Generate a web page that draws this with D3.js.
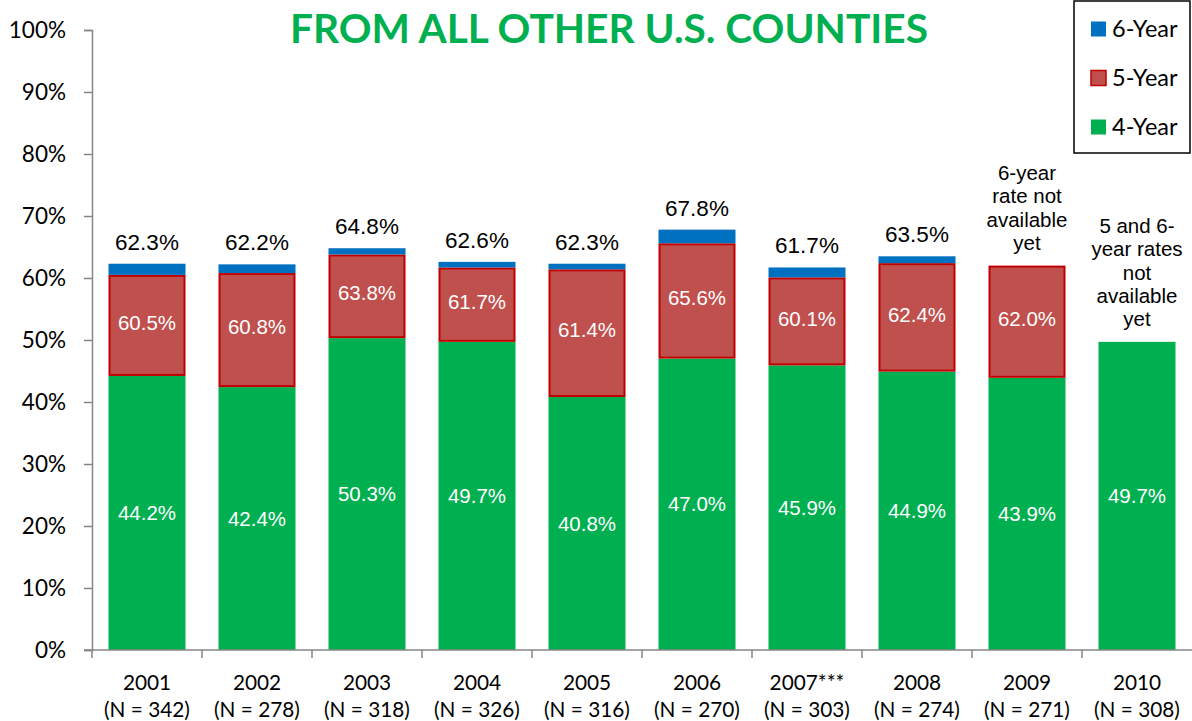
<!DOCTYPE html>
<html>
<head>
<meta charset="utf-8">
<script src="https://cdn.jsdelivr.net/npm/d3@7"></script>
<style>
  body { margin: 0; background: #fff; }
  svg { display: block; }
</style>
</head>
<body>
<svg id="chart" width="1192" height="721"></svg>
<script>
// Cohort graduation rates, cumulative by year of completion
const years = ["2001", "2002", "2003", "2004", "2005", "2006", "2007***", "2008", "2009", "2010"];
const cohortN = [342, 278, 318, 326, 316, 270, 303, 274, 271, 308];
const fourYear = [44.2, 42.4, 50.3, 49.7, 40.8, 47.0, 45.9, 44.9, 43.9, 49.7];
const fiveYear = [60.5, 60.8, 63.8, 61.7, 61.4, 65.6, 60.1, 62.4, 62.0, null];
const sixYear = [62.3, 62.2, 64.8, 62.6, 62.3, 67.8, 61.7, 63.5, null, null];
const pendingNotes = [null, null, null, null, null, null, null, null,
  ["6-year", "rate not", "available", "yet"],
  ["5 and 6-", "year rates", "not", "available", "yet"]];
const yTicks = [0, 10, 20, 30, 40, 50, 60, 70, 80, 90, 100];
const legendItems = ["6-Year", "5-Year", "4-Year"];

const GREEN = "#00B050", RED = "#C0504D", RED_EDGE = "#C00000", BLUE = "#0070C0";
const AXIS = "#868686";
const UI_FONT = "Lato, 'Open Sans', sans-serif";
const LABEL_FONT = "'Liberation Sans', Arial, sans-serif";

const svg = d3.select("#chart");

const x = d3.scaleBand().domain(years).range([92, 1192]).paddingInner(0.3).paddingOuter(0.15);
const y = d3.scaleLinear().domain([0, 100]).range([650, 30]);

// Title
svg.append("text")
  .attr("x", 609).attr("y", 43)
  .attr("text-anchor", "middle")
  .attr("font-family", UI_FONT).attr("font-weight", 700)
  .attr("font-size", 41).attr("fill", GREEN)
  .attr("textLength", 638).attr("lengthAdjust", "spacingAndGlyphs")
  .text("FROM ALL OTHER U.S. COUNTIES");

// Y axis
const yAxis = svg.append("g").attr("transform", "translate(92,0)")
  .call(d3.axisLeft(y).tickValues(yTicks).tickFormat(d => d + "%").tickSize(8).tickPadding(18));
yAxis.select(".domain").attr("stroke", AXIS).attr("stroke-width", 1.5);
yAxis.selectAll(".tick line").attr("stroke", AXIS).attr("stroke-width", 1.5);
yAxis.selectAll(".tick text").attr("font-family", UI_FONT).attr("font-size", 22.5).attr("fill", "#000");

// Stacked segments
const segments = [];
years.forEach((yr, i) => {
  const base4 = fourYear[i];
  segments.push({ yr, lo: 0, hi: base4, fill: GREEN, stroke: "none", label: base4 });
  if (fiveYear[i] != null) {
    segments.push({ yr, lo: base4, hi: fiveYear[i], fill: RED, stroke: RED_EDGE, label: fiveYear[i] });
    if (sixYear[i] != null) {
      segments.push({ yr, lo: fiveYear[i], hi: sixYear[i], fill: BLUE, stroke: "none", label: null });
    }
  }
});

const bars = svg.append("g");
bars.selectAll("rect").data(segments).join("rect")
  .attr("x", d => x(d.yr) + (d.stroke === "none" ? 0 : 1))
  .attr("width", d => x.bandwidth() - (d.stroke === "none" ? 0 : 2))
  .attr("y", d => y(d.hi) + (d.stroke === "none" ? 0 : 1))
  .attr("height", d => y(d.lo) - y(d.hi) - (d.stroke === "none" ? 0 : 2))
  .attr("fill", d => d.fill)
  .attr("stroke", d => d.stroke)
  .attr("stroke-width", 2);

// Segment value labels (inside)
svg.append("g").selectAll("text").data(segments.filter(d => d.label != null)).join("text")
  .attr("x", d => x(d.yr) + x.bandwidth() / 2)
  .attr("y", d => (y(d.lo) + y(d.hi)) / 2 - (d.fill === RED ? 3 : 0))
  .attr("dy", "0.35em")
  .attr("text-anchor", "middle")
  .attr("font-family", LABEL_FONT).attr("font-size", 20.5).attr("fill", "#fff")
  .text(d => d.label.toFixed(1) + "%");

// Totals above bars
svg.append("g").selectAll("text").data(years.map((yr, i) => ({ yr, v: sixYear[i] })).filter(d => d.v != null)).join("text")
  .attr("x", d => x(d.yr) + x.bandwidth() / 2)
  .attr("y", d => y(d.v) - 22)
  .attr("dy", "0.35em")
  .attr("text-anchor", "middle")
  .attr("font-family", LABEL_FONT).attr("font-size", 22.5).attr("fill", "#000")
  .text(d => d.v.toFixed(1) + "%");

// Notes where later rates are pending
years.forEach((yr, i) => {
  const lines = pendingNotes[i];
  if (!lines) return;
  const top = fiveYear[i] != null ? fiveYear[i] : fourYear[i];
  const lastY = y(top) - 23;
  const t = svg.append("text")
    .attr("text-anchor", "middle")
    .attr("font-family", LABEL_FONT).attr("font-size", 20.5).attr("fill", "#000");
  lines.forEach((ln, k) => {
    t.append("tspan")
      .attr("x", x(yr) + x.bandwidth() / 2)
      .attr("y", lastY - (lines.length - 1 - k) * 23.2)
      .attr("dy", "0.35em")
      .text(ln);
  });
});

// X axis with boundary ticks
const xAxisG = svg.append("g");
xAxisG.append("line")
  .attr("x1", 84).attr("x2", 1192).attr("y1", y(0)).attr("y2", y(0))
  .attr("stroke", AXIS).attr("stroke-width", 1.5);
const bounds = years.map(yr => x(yr) - x.step() * x.paddingInner() / 2);
xAxisG.selectAll("line.tk").data(bounds).join("line").attr("class", "tk")
  .attr("x1", d => d).attr("x2", d => d)
  .attr("y1", y(0)).attr("y2", y(0) + 8)
  .attr("stroke", AXIS).attr("stroke-width", 1.5);
const xl = xAxisG.selectAll("text").data(years).join("text")
  .attr("text-anchor", "middle")
  .attr("font-family", UI_FONT).attr("font-size", 20.8).attr("fill", "#000");
xl.append("tspan").attr("x", d => x(d) + x.bandwidth() / 2).attr("y", 690).text(d => d);
xl.append("tspan").attr("x", d => x(d) + x.bandwidth() / 2).attr("y", 717)
  .text((d, i) => "(N = " + cohortN[i] + ")");

// Legend
const lg = svg.append("g");
lg.append("rect").attr("x", 1074).attr("y", 1).attr("width", 116).attr("height", 152)
  .attr("fill", "#fff").attr("stroke", "#000").attr("stroke-width", 1.5);
const legendFill = { "6-Year": BLUE, "5-Year": RED, "4-Year": GREEN };
legendItems.forEach((name, k) => {
  const cy = 29 + k * 49;
  lg.append("rect").attr("x", 1091).attr("y", cy - 7.5).attr("width", 15).attr("height", 15)
    .attr("fill", legendFill[name])
    .attr("stroke", name === "5-Year" ? RED_EDGE : "none").attr("stroke-width", 1.5);
  lg.append("text").attr("x", 1112).attr("y", cy).attr("dy", "0.35em")
    .attr("font-family", UI_FONT).attr("font-size", 23.5).attr("fill", "#000")
    .text(name);
});
</script>
</body>
</html>
